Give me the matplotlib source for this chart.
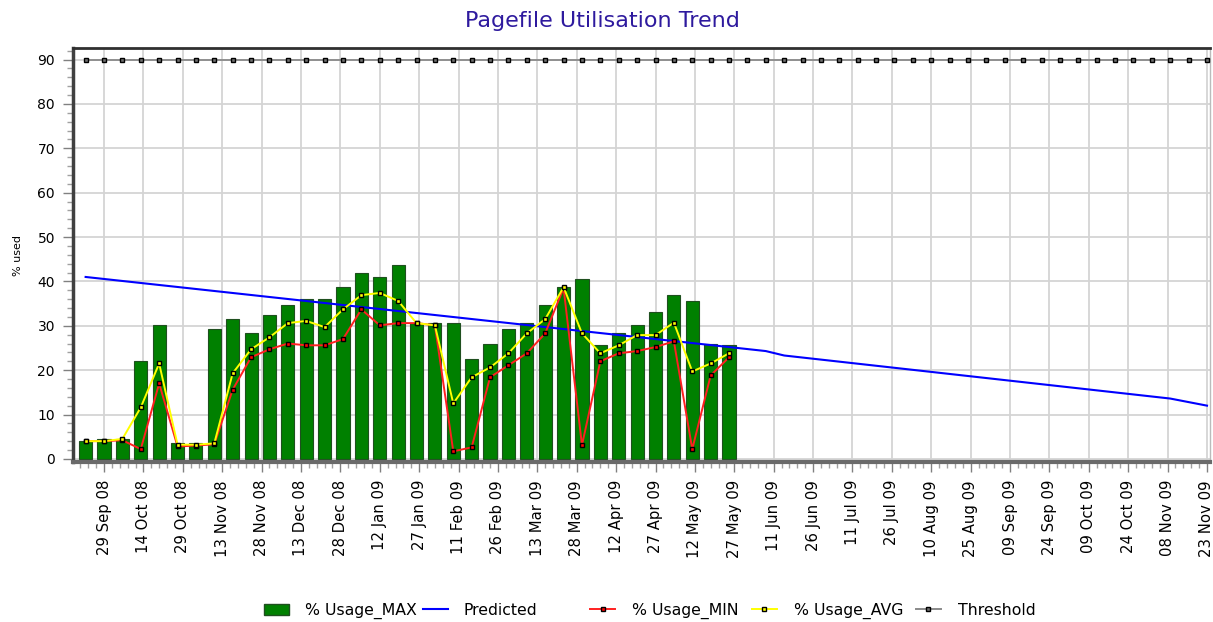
import numpy as np
import pandas as pd
import matplotlib
matplotlib.use('Agg')
import matplotlib.pyplot as plt
import matplotlib.dates as mdates
from matplotlib.patches import Patch
from matplotlib.lines import Line2D

# weekly samples
week_start = '2008-09-22'
usage_max = [4.0, 4.4, 4.5, 22.1, 30.2, 3.5, 3.5, 29.3, 31.5, 28.4, 32.4, 34.7,
             36.0, 36.0, 38.7, 41.9, 41.0, 43.8, 30.6, 30.6, 30.6, 22.5, 26.0, 29.3,
             30.6, 34.7, 38.7, 40.5, 25.6, 28.3, 30.1, 33.0, 36.9, 35.6, 26.0, 25.6]
usage_min = [4.0, 4.0, 4.2, 2.2, 17.0, 2.8, 3.0, 3.3, 15.6, 22.9, 24.7, 26.0,
             25.6, 25.6, 27.0, 33.7, 30.1, 30.6, 30.6, 30.1, 1.7, 2.6, 18.4, 21.1,
             23.8, 28.3, 38.5, 3.1, 22.0, 23.8, 24.3, 25.2, 26.5, 2.2, 18.8, 22.9]
usage_avg = [4.0, 4.0, 4.5, 11.6, 21.5, 3.2, 3.2, 3.5, 19.3, 24.7, 27.4, 30.6,
             31.1, 29.7, 33.7, 36.9, 37.4, 35.6, 30.6, 30.1, 12.5, 18.4, 20.6, 23.8,
             28.3, 31.5, 38.7, 28.3, 23.8, 25.6, 27.9, 27.9, 30.7, 19.7, 21.5, 23.8]

# predicted trend line
pred_dates = ['2008-09-22', '2009-06-08', '2009-06-15', '2009-11-09', '2009-11-23']
pred_values = [41.0, 24.3, 23.3, 13.6, 12.0]

threshold_value = 90
threshold_end = '2009-11-23'

dates = pd.date_range(week_start, periods=len(usage_max), freq='7D')
thr_dates = pd.date_range(week_start, threshold_end, freq='7D')

fig = plt.figure(figsize=(12.13, 6.22), dpi=100)
ax = fig.add_axes([73/1213, 1-462/622, (1210-73)/1213, (462-48)/622])

ax.bar(dates, usage_max, width=5, color='#008000', edgecolor='#1f4f1f', linewidth=0.8, zorder=2)
ax.plot(pd.to_datetime(pred_dates), pred_values, color='#0000ff', lw=1.5, zorder=3)
ax.plot(dates, usage_min, color='#ff2020', lw=1.4, marker='s', ms=3.5,
        mfc='#ff0000', mec='black', mew=1, zorder=4)
ax.plot(dates, usage_avg, color='#ffff00', lw=1.4, marker='s', ms=3.5,
        mfc='#ffff00', mec='black', mew=1, zorder=5)
ax.plot(thr_dates, np.full(len(thr_dates), threshold_value), color='#8a8a8a', lw=1.3,
        marker='s', ms=3.2, mfc='#707070', mec='black', mew=1, zorder=5)

# axes ranges
x0 = mdates.date2num(pd.Timestamp('2008-09-29')) - 31/2.626
x1 = mdates.date2num(pd.Timestamp('2009-11-23')) + 3/2.626
ax.set_xlim(x0, x1)
ax.set_ylim(-0.7, 92.6)

ax.set_yticks(np.arange(0, 91, 10))
ax.set_yticks(np.arange(0, 93, 2), minor=True)
major_x = pd.date_range('2008-09-29', '2009-11-23', freq='15D')
ax.set_xticks(mdates.date2num(major_x))
ax.set_xticks(mdates.date2num(pd.date_range('2008-09-20', '2009-11-24', freq='3D')), minor=True)
ax.set_xticklabels([d.strftime('%d %b %y') for d in major_x], rotation=90, fontsize=10.7)
ax.tick_params(axis='y', labelsize=10)
ax.tick_params(which='major', length=7, width=1, color='#808080', pad=6)
ax.tick_params(which='minor', length=4, width=1, color='#a0a0a0')

ax.grid(True, which='major', color='#d4d4d4', lw=1.3, zorder=0)
ax.set_axisbelow(True)

for side, c, w in [('left', '#404040', 2.5), ('bottom', '#6a6a6a', 3), ('top', '#303030', 2), ('right', '#bbbbbb', 1)]:
    ax.spines[side].set_color(c)
    ax.spines[side].set_linewidth(w)

ax.set_ylabel('% used', fontsize=8, labelpad=10)
fig.suptitle('Pagefile Utilisation Trend', x=0.497, y=0.982, fontsize=16, color='#2e1a9e')

# legend split in two groups like the original
h1 = [Patch(facecolor='#008000', edgecolor='#1f4f1f'),
      Line2D([], [], color='#0000ff', lw=1.5)]
h2 = [Line2D([], [], color='#ff2020', lw=1.4, marker='s', ms=3.5, mfc='#ff0000', mec='black'),
      Line2D([], [], color='#ffff00', lw=1.4, marker='s', ms=3.5, mfc='#ffff00', mec='black'),
      Line2D([], [], color='#8a8a8a', lw=1.4, marker='s', ms=3.5, mfc='#707070', mec='black')]
leg1 = fig.legend(h1, ['% Usage_MAX', 'Predicted'], loc='center left', bbox_to_anchor=(250/1213, 0.018),
                  ncol=2, frameon=False, fontsize=11.3, handlelength=1.6, handletextpad=1.0, columnspacing=0.4)
leg2 = fig.legend(h2, ['% Usage_MIN', '% Usage_AVG', 'Threshold'], loc='center left',
                  bbox_to_anchor=(576/1213, 0.018), ncol=3, frameon=False, fontsize=11.3,
                  handlelength=1.6, handletextpad=1.1, columnspacing=0.8)

fig.savefig('out.png', dpi=100)
